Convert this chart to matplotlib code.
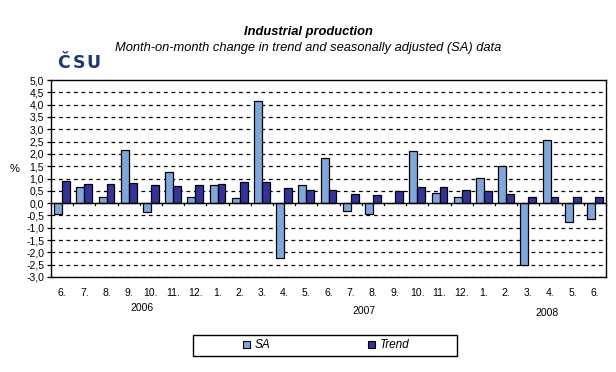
import matplotlib
matplotlib.use("Agg")
import matplotlib.pyplot as plt
import matplotlib.transforms as mtransforms
import numpy as np
from matplotlib.patches import Patch, Rectangle

plt.rcParams['font.family'] = ['Liberation Sans', 'DejaVu Sans']

months = ["6.", "7.", "8.", "9.", "10.", "11.", "12.", "1.", "2.", "3.", "4.", "5.",
          "6.", "7.", "8.", "9.", "10.", "11.", "12.", "1.", "2.", "3.", "4.", "5.", "6."]
years = ["2006", "2007", "2008"]
year_pos = [3.6, 13.6, 21.85]
sa = [-0.45, 0.66, 0.26, 2.16, -0.37, 1.27, 0.23, 0.75, 0.19, 4.16, -2.24, 0.73,
      1.85, -0.30, -0.46, 0.02, 2.13, 0.43, 0.23, 1.04, 1.49, -2.52, 2.58, -0.76, -0.66]
trend = [0.90, 0.77, 0.77, 0.82, 0.74, 0.70, 0.72, 0.76, 0.84, 0.84, 0.60, 0.52,
         0.55, 0.39, 0.35, 0.49, 0.64, 0.64, 0.55, 0.51, 0.39, 0.23, 0.23, 0.23, 0.23]
yticks = np.arange(-3.0, 5.01, 0.5)

c_sa = "#7FA7DB"
c_tr = "#333399"

W, H = 616, 372
fig = plt.figure(figsize=(W/100, H/100), dpi=100)
ax = fig.add_axes([51/W, 1-277/H, 555/W, 197/H])

x = np.arange(len(months))
w = 0.36
ax.bar(x - w/2, sa, w, color=c_sa, edgecolor="black", linewidth=0.9, zorder=3)
ax.bar(x + w/2, trend, w, color=c_tr, edgecolor="black", linewidth=0.9, zorder=3)

ax.set_xlim(-0.5, len(months) - 0.5)
ax.set_ylim(-3.0, 5.0)
ax.set_yticks(yticks)
ax.set_yticklabels([f"{v:.1f}".replace(".", ",") for v in yticks], fontsize=7.5)
for v in yticks:
    if abs(v) > 1e-9 and v < 4.99:
        ax.axhline(v, color="black", linestyle=(0, (3, 3)), linewidth=0.9, zorder=1)
ax.axhline(0, color="black", linewidth=1.0, zorder=4)

# category boundary ticks on zero line
for b in np.arange(-0.5, len(months) - 0.4, 1.0):
    ax.plot([b, b], [0, -0.09], color="black", linewidth=0.9, zorder=4, clip_on=False)

ax.set_xticks(x)
ax.set_xticklabels(months, fontsize=7.5)
ax.tick_params(axis="x", length=0, pad=8)
ax.tick_params(axis="y", length=3, width=0.9, pad=2)
for s in ax.spines.values():
    s.set_linewidth(1.0)

blend = mtransforms.blended_transform_factory(ax.transData, fig.transFigure)
year_y = [308, 311, 313]
for yr, p, yy in zip(years, year_pos, year_y):
    ax.text(p, 1 - yy/H, yr, ha="center", va="center", fontsize=7.5, transform=blend)

fig.text(15/W, 1-169/H, "%", fontsize=8, ha="center", va="center")

fig.text(308/W, 1-32/H, "Industrial production", ha="center", va="center",
         fontsize=9.3, fontweight="bold", fontstyle="italic")
fig.text(308/W, 1-48/H, "Month-on-month change in trend and seasonally adjusted (SA) data",
         ha="center", va="center", fontsize=9.3, fontstyle="italic")
for ch, cx in zip("ČSU", [64, 79, 93.5]):
    fig.text(cx/W, 1-63/H, ch, ha="center", va="center", fontsize=12.5,
             fontweight="heavy", color="#1F3A70", family=["DejaVu Sans"])

fig.patches.append(Rectangle((193/W, 1-356/H), 264/W, 21/H, transform=fig.transFigure,
                             facecolor="white", edgecolor="black", linewidth=1.0))
handles = [Patch(facecolor=c_sa, edgecolor="black", linewidth=0.8, label="SA"),
           Patch(facecolor=c_tr, edgecolor="black", linewidth=0.8, label="Trend")]
leg = fig.legend(handles=handles, loc="center", bbox_to_anchor=(326/W, 1-345.5/H),
                 ncol=2, frameon=False,
                 handlelength=0.6, handleheight=0.6, handletextpad=0.4, columnspacing=8.3,
                 prop={"style": "italic", "size": 8.5})

fig.savefig("out.png", dpi=100)
